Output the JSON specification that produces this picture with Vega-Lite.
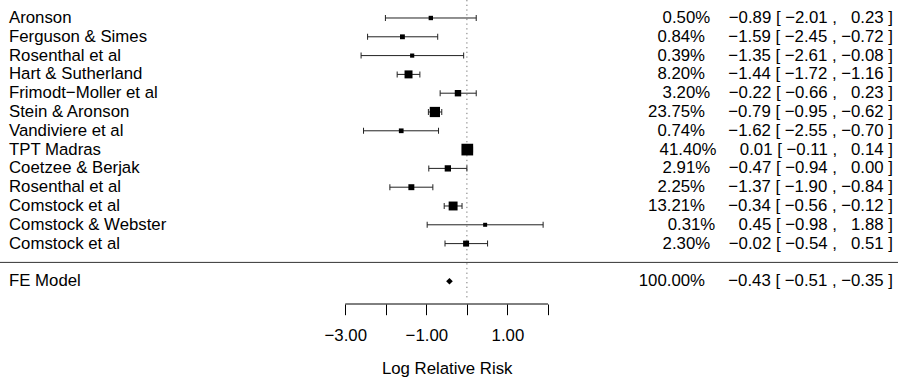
{
  "$schema": "https://vega.github.io/schema/vega-lite/v6.json",
  "width": 898,
  "height": 304,
  "autosize": {"type": "none"},
  "padding": {"left": 0, "top": 0, "right": 0, "bottom": 73},
  "background": "white",
  "config": {"view": {"stroke": null}, "font": "Liberation Sans"},
  "datasets": {
    "rows": [
      {"study": "Aronson", "row": 13, "est": -0.89, "lb": -2.01, "ub": 0.23, "weight": 0.50, "ann": "0.50%\u00a0\u00a0\u00a0\u00a0\u22120.89 [ \u22122.01 , \u00a0\u00a00.23 ]"},
      {"study": "Ferguson & Simes", "row": 12, "est": -1.59, "lb": -2.45, "ub": -0.72, "weight": 0.84, "ann": "0.84%\u00a0\u00a0\u00a0\u00a0\u00a0\u22121.59 [ \u22122.45 , \u22120.72 ]"},
      {"study": "Rosenthal et al", "row": 11, "est": -1.35, "lb": -2.61, "ub": -0.08, "weight": 0.39, "ann": "0.39%\u00a0\u00a0\u00a0\u00a0\u00a0\u22121.35 [ \u22122.61 , \u22120.08 ]"},
      {"study": "Hart & Sutherland", "row": 10, "est": -1.44, "lb": -1.72, "ub": -1.16, "weight": 8.20, "ann": "8.20%\u00a0\u00a0\u00a0\u00a0\u00a0\u22121.44 [ \u22121.72 , \u22121.16 ]"},
      {"study": "Frimodt\u2212Moller et al", "row": 9, "est": -0.22, "lb": -0.66, "ub": 0.23, "weight": 3.20, "ann": "3.20%\u00a0\u00a0\u00a0\u00a0\u22120.22 [ \u22120.66 , \u00a0\u00a00.23 ]"},
      {"study": "Stein & Aronson", "row": 8, "est": -0.79, "lb": -0.95, "ub": -0.62, "weight": 23.75, "ann": "23.75%\u00a0\u00a0\u00a0\u00a0\u00a0\u22120.79 [ \u22120.95 , \u22120.62 ]"},
      {"study": "Vandiviere et al", "row": 7, "est": -1.62, "lb": -2.55, "ub": -0.70, "weight": 0.74, "ann": "0.74%\u00a0\u00a0\u00a0\u00a0\u00a0\u22121.62 [ \u22122.55 , \u22120.70 ]"},
      {"study": "TPT Madras", "row": 6, "est": 0.01, "lb": -0.11, "ub": 0.14, "weight": 41.40, "ann": "41.40%\u00a0\u00a0\u00a0\u00a0\u00a00.01 [ \u22120.11 , \u00a0\u00a00.14 ]"},
      {"study": "Coetzee & Berjak", "row": 5, "est": -0.47, "lb": -0.94, "ub": 0.00, "weight": 2.91, "ann": "2.91%\u00a0\u00a0\u00a0\u00a0\u22120.47 [ \u22120.94 , \u00a0\u00a00.00 ]"},
      {"study": "Rosenthal et al", "row": 4, "est": -1.37, "lb": -1.90, "ub": -0.84, "weight": 2.25, "ann": "2.25%\u00a0\u00a0\u00a0\u00a0\u00a0\u22121.37 [ \u22121.90 , \u22120.84 ]"},
      {"study": "Comstock et al", "row": 3, "est": -0.34, "lb": -0.56, "ub": -0.12, "weight": 13.21, "ann": "13.21%\u00a0\u00a0\u00a0\u00a0\u00a0\u22120.34 [ \u22120.56 , \u22120.12 ]"},
      {"study": "Comstock & Webster", "row": 2, "est": 0.45, "lb": -0.98, "ub": 1.88, "weight": 0.31, "ann": "0.31%\u00a0\u00a0\u00a0\u00a0\u00a00.45 [ \u22120.98 , \u00a0\u00a01.88 ]"},
      {"study": "Comstock et al", "row": 1, "est": -0.02, "lb": -0.54, "ub": 0.51, "weight": 2.30, "ann": "2.30%\u00a0\u00a0\u00a0\u00a0\u22120.02 [ \u22120.54 , \u00a0\u00a00.51 ]"},
      {"study": "FE Model", "row": -1, "est": -0.43, "lb": -0.51, "ub": -0.35, "weight": 100.00, "ann": "100.00%\u00a0\u00a0\u00a0\u00a0\u00a0\u22120.43 [ \u22120.51 , \u22120.35 ]"}
    ]
  },
  "layer": [
    {
      "data": {"values": [{}]},
      "mark": {"type": "rule", "color": "black", "strokeWidth": 1},
      "encoding": {
        "x": {
          "datum": -3,
          "type": "quantitative",
          "scale": {"domain": [-11.517, 10.634], "nice": false, "zero": false},
          "axis": {
            "values": [-3, -2, -1, 0, 1, 2],
            "domain": false,
            "grid": false,
            "ticks": true,
            "tickSize": 10.7,
            "tickColor": "black",
            "tickWidth": 1,
            "labelExpr": "abs(datum.value % 2) == 1 ? format(datum.value, '.2f') : ''",
            "labelFont": "Liberation Sans",
            "labelFontSize": 16.8,
            "labelColor": "black",
            "labelPadding": 13,
            "labelFlush": false,
            "labelOverlap": false,
            "title": "Log Relative Risk",
            "titleFont": "Liberation Sans",
            "titleFontSize": 16.8,
            "titleFontWeight": "normal",
            "titleColor": "black",
            "titleX": 446.7,
            "titleY": 69,
            "titleBaseline": "alphabetic",
            "titleAlign": "center"
          }
        },
        "x2": {"datum": 2},
        "y": {
          "datum": -2.213,
          "type": "quantitative",
          "scale": {"domain": [-2.213, 13.957], "nice": false, "zero": false},
          "axis": null
        }
      }
    },
    {
      "data": {"values": [{}]},
      "mark": {"type": "rule", "color": "#777777", "strokeWidth": 1, "strokeDash": [1.3, 3.4]},
      "encoding": {
        "x": {"datum": 0, "type": "quantitative"},
        "y": {"datum": 13.957, "type": "quantitative", "axis": null},
        "y2": {"datum": -2.0}
      }
    },
    {
      "data": {"values": [{}]},
      "mark": {"type": "rule", "color": "#333333", "strokeWidth": 1},
      "encoding": {
        "y": {"datum": 0, "type": "quantitative", "axis": null}
      }
    },
    {
      "data": {"name": "rows"},
      "transform": [{"filter": "datum.row > 0"}],
      "mark": {"type": "rule", "color": "#222222", "strokeWidth": 1},
      "encoding": {
        "x": {"field": "lb", "type": "quantitative"},
        "x2": {"field": "ub"},
        "y": {"field": "row", "type": "quantitative", "axis": null}
      }
    },
    {
      "data": {"name": "rows"},
      "transform": [{"filter": "datum.row > 0"}],
      "mark": {"type": "tick", "orient": "vertical", "color": "#222222", "thickness": 1, "size": 6, "opacity": 1},
      "encoding": {
        "x": {"field": "lb", "type": "quantitative"},
        "y": {"field": "row", "type": "quantitative", "axis": null}
      }
    },
    {
      "data": {"name": "rows"},
      "transform": [{"filter": "datum.row > 0"}],
      "mark": {"type": "tick", "orient": "vertical", "color": "#222222", "thickness": 1, "size": 6, "opacity": 1},
      "encoding": {
        "x": {"field": "ub", "type": "quantitative"},
        "y": {"field": "row", "type": "quantitative", "axis": null}
      }
    },
    {
      "data": {"name": "rows"},
      "transform": [{"filter": "datum.row > 0"}],
      "mark": {"type": "point", "shape": "square", "filled": true, "color": "black", "opacity": 1, "strokeWidth": 0},
      "encoding": {
        "x": {"field": "est", "type": "quantitative"},
        "y": {"field": "row", "type": "quantitative", "axis": null},
        "size": {
          "field": "weight",
          "type": "quantitative",
          "scale": {"type": "sqrt", "domain": [0.31, 41.4], "range": [16, 137], "zero": false},
          "legend": null
        }
      }
    },
    {
      "data": {"name": "rows"},
      "transform": [{"filter": "datum.row < 0"}],
      "mark": {"type": "point", "shape": "diamond", "filled": true, "color": "black", "opacity": 1, "size": 44, "strokeWidth": 0},
      "encoding": {
        "x": {"field": "est", "type": "quantitative"},
        "y": {"field": "row", "type": "quantitative", "axis": null}
      }
    },
    {
      "data": {"name": "rows"},
      "mark": {"type": "text", "align": "left", "baseline": "middle", "font": "Liberation Sans", "fontSize": 16.8, "color": "black"},
      "encoding": {
        "x": {"datum": -11.295, "type": "quantitative"},
        "y": {"field": "row", "type": "quantitative", "axis": null},
        "text": {"field": "study"}
      }
    },
    {
      "data": {"name": "rows"},
      "mark": {"type": "text", "align": "right", "baseline": "middle", "font": "Liberation Sans", "fontSize": 16.8, "color": "black"},
      "encoding": {
        "x": {"datum": 10.511, "type": "quantitative"},
        "y": {"field": "row", "type": "quantitative", "axis": null},
        "text": {"field": "ann"}
      }
    }
  ]
}
